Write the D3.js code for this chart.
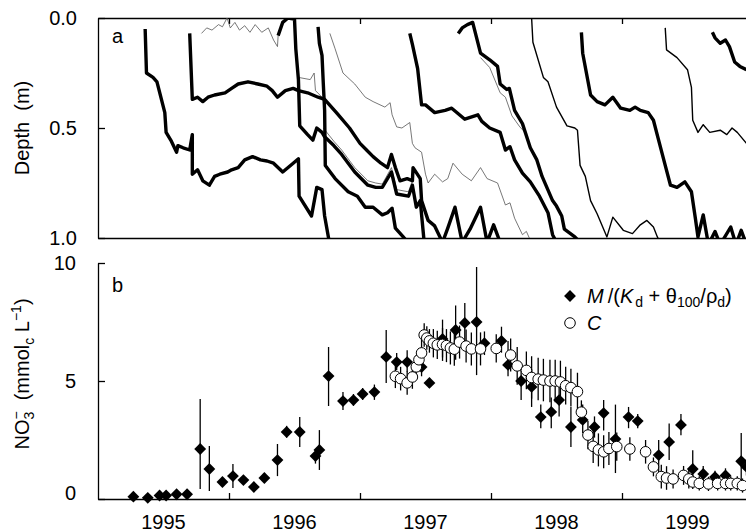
<!DOCTYPE html>
<html>
<head>
<meta charset="utf-8">
<script src="https://cdn.jsdelivr.net/npm/d3@7"></script>
<style>
  body { margin: 0; background: #fff; }
  svg { display: block; font-family: "Liberation Sans", Arial, sans-serif; }
</style>
</head>
<body>
<script>
// ---- panel a : depth of the solute fronts (year, depth m) ----
const curveA = [[1995.36,0.05],[1995.37,0.25],[1995.42,0.27],[1995.45,0.29],[1995.51,0.43],[1995.52,0.52],[1995.56,0.56],[1995.60,0.61],[1995.61,0.58],[1995.65,0.59],[1995.70,0.60],[1995.72,0.53],[1995.72,0.71],[1995.76,0.69],[1995.80,0.74],[1995.85,0.76],[1995.89,0.72],[1995.93,0.71],[1995.99,0.70],[1996.02,0.69],[1996.07,0.68],[1996.12,0.645],[1996.18,0.63],[1996.24,0.645],[1996.29,0.65],[1996.34,0.66],[1996.41,0.70],[1996.49,0.66],[1996.53,0.64],[1996.535,0.81],[1996.63,0.90],[1996.67,0.77],[1996.71,0.78],[1996.73,0.90],[1996.76,1.0],[1996.77,1.05]];
const curveB = [[1995.70,0.07],[1995.72,0.37],[1995.76,0.36],[1995.80,0.38],[1995.84,0.36],[1995.89,0.35],[1995.97,0.34],[1996.02,0.32],[1996.07,0.30],[1996.145,0.29],[1996.22,0.30],[1996.29,0.31],[1996.33,0.33],[1996.37,0.36],[1996.43,0.33],[1996.49,0.32],[1996.53,0.33],[1996.60,0.34],[1996.68,0.36],[1996.73,0.37],[1996.82,0.43],[1996.92,0.50],[1997.00,0.57],[1997.05,0.60],[1997.10,0.63],[1997.16,0.66],[1997.21,0.68],[1997.24,0.62],[1997.27,0.68],[1997.305,0.74],[1997.36,0.73],[1997.40,0.74],[1997.405,0.68],[1997.46,0.73],[1997.47,0.83],[1997.52,0.92],[1997.57,0.945],[1997.63,1.02],[1997.67,0.955],[1997.725,0.86],[1997.78,1.02],[1997.84,0.96],[1997.92,0.86],[1997.97,1.02],[1998.02,0.94],[1998.07,1.02]];
const curveCthin = [[1995.79,0.07],[1995.83,0.045],[1995.87,0.055],[1995.92,0.03],[1995.95,0.04],[1995.985,0.0],[1996.01,0.045],[1996.045,0.02],[1996.08,0.055],[1996.12,0.035],[1996.16,0.065],[1996.20,0.03],[1996.25,0.065],[1996.30,0.045],[1996.34,0.10],[1996.37,0.13],[1996.375,0.08]];
const curveC = [[1996.375,0.08],[1996.41,0.02],[1996.45,0.0],[1996.50,0.005],[1996.51,0.14],[1996.53,0.28],[1996.54,0.49],[1996.60,0.53],[1996.64,0.555],[1996.67,0.50],[1996.71,0.52],[1996.73,0.54],[1996.80,0.58],[1996.86,0.62],[1996.96,0.70],[1997.06,0.76],[1997.12,0.77],[1997.17,0.77],[1997.24,0.70],[1997.28,0.80],[1997.37,0.81],[1997.40,0.76],[1997.43,0.86],[1997.46,0.83],[1997.49,1.02]];
const curveCbranch = [[1996.53,0.27],[1996.62,0.28],[1996.65,0.25],[1996.66,0.33],[1996.71,0.36]];
const curveCtwin = [[1996.72,0.50],[1996.80,0.56],[1996.86,0.60],[1996.96,0.68],[1997.06,0.74],[1997.12,0.75],[1997.17,0.755],[1997.24,0.68],[1997.28,0.78],[1997.37,0.79],[1997.40,0.74]];
const curveJ = [[1996.68,0.04],[1996.69,0.115],[1996.71,0.17],[1996.72,0.30],[1996.73,0.42],[1996.735,0.67],[1996.81,0.73],[1996.91,0.79],[1996.98,0.81],[1997.04,0.86],[1997.10,0.86],[1997.17,0.895],[1997.21,0.885],[1997.245,0.865],[1997.27,0.955],[1997.33,0.995],[1997.38,1.03]];
const curveK = [[1996.77,0.07],[1996.81,0.14],[1996.87,0.25],[1996.96,0.30],[1997.04,0.36],[1997.10,0.38],[1997.19,0.405],[1997.23,0.385],[1997.245,0.44],[1997.28,0.495],[1997.32,0.50],[1997.38,0.475],[1997.40,0.57],[1997.42,0.59],[1997.47,0.61],[1997.50,0.71],[1997.52,0.75],[1997.57,0.71],[1997.63,0.745],[1997.67,0.73],[1997.71,0.66],[1997.78,0.71],[1997.85,0.74],[1997.92,0.68],[1997.97,0.73],[1998.05,0.75],[1998.11,0.85],[1998.145,0.84],[1998.18,0.91],[1998.24,0.985],[1998.27,0.97],[1998.30,1.01]];
const curveD = [[1997.38,0.07],[1997.40,0.12],[1997.44,0.23],[1997.47,0.395],[1997.50,0.395],[1997.57,0.43],[1997.65,0.42],[1997.70,0.41],[1997.80,0.46],[1997.90,0.44],[1997.93,0.47],[1997.99,0.50],[1998.07,0.52],[1998.11,0.60],[1998.145,0.585],[1998.18,0.645],[1998.24,0.705],[1998.30,0.745],[1998.37,0.81],[1998.435,0.885],[1998.47,0.985],[1998.50,1.02]];
const curveE = [[1997.75,0.07],[1997.78,0.045],[1997.82,0.03],[1997.86,0.02],[1997.92,0.16],[1997.99,0.19],[1998.05,0.22],[1998.07,0.30],[1998.12,0.325],[1998.14,0.32],[1998.18,0.42],[1998.24,0.48],[1998.30,0.59],[1998.35,0.645],[1998.39,0.72],[1998.47,0.83],[1998.50,0.855],[1998.54,0.90],[1998.56,0.96],[1998.64,0.995],[1998.68,1.02]];
const curveEtwin = [[1997.92,0.18],[1997.99,0.225],[1998.07,0.34],[1998.11,0.36],[1998.16,0.445],[1998.22,0.495],[1998.26,0.52]];
const curveF = [[1998.31,0.0],[1998.32,0.11],[1998.40,0.27],[1998.435,0.29],[1998.50,0.405],[1998.58,0.49],[1998.64,0.50],[1998.66,0.51],[1998.68,0.67],[1998.72,0.72],[1998.76,0.83],[1998.81,0.89],[1998.885,0.995],[1998.93,0.905],[1999.01,0.965],[1999.08,0.98],[1999.14,0.94],[1999.19,0.92],[1999.24,0.95],[1999.27,0.995],[1999.29,1.02]];
const curveG = [[1998.69,0.065],[1998.70,0.16],[1998.76,0.35],[1998.81,0.38],[1998.87,0.395],[1998.93,0.36],[1998.99,0.41],[1999.06,0.42],[1999.10,0.405],[1999.14,0.42],[1999.20,0.43],[1999.24,0.465],[1999.275,0.545],[1999.33,0.67],[1999.37,0.76],[1999.42,0.77],[1999.48,0.745],[1999.53,0.79],[1999.56,0.91],[1999.58,0.995],[1999.62,0.895],[1999.66,1.03],[1999.71,0.97],[1999.75,1.03],[1999.83,0.95],[1999.87,1.03],[1999.91,0.965],[1999.95,1.03]];
const curveH = [[1999.33,0.045],[1999.34,0.145],[1999.42,0.18],[1999.50,0.235],[1999.53,0.315],[1999.54,0.465],[1999.58,0.52],[1999.62,0.485],[1999.67,0.52],[1999.75,0.51],[1999.80,0.53],[1999.84,0.50],[1999.88,0.52],[1999.95,0.57]];
const curveI = [[1999.69,0.065],[1999.71,0.09],[1999.75,0.115],[1999.79,0.10],[1999.82,0.13],[1999.86,0.20],[1999.90,0.22],[1999.95,0.235]];

const depthTicks = [0, 0.5, 1];

// ---- panel b : NO3- concentration ----
const mdYear = [1995.27,1995.38,1995.47,1995.52,1995.60,1995.68,1995.78,1995.85,1995.95,1996.03,1996.11,1996.19,1996.27,1996.37,1996.44,1996.54,1996.66,1996.69,1996.76,1996.87,1996.95,1997.02,1997.11,1997.20,1997.28,1997.36,1997.47,1997.53,1997.63,1997.73,1997.80,1997.89,1997.95,1998.08,1998.13,1998.23,1998.31,1998.38,1998.46,1998.52,1998.61,1998.70,1998.79,1998.86,1998.95,1999.05,1999.12,1999.28,1999.36,1999.45,1999.54,1999.62,1999.71,1999.79,1999.91,1999.95];
const mdValue = [0.10,0.05,0.15,0.15,0.20,0.20,2.12,1.27,0.72,0.97,0.80,0.51,0.89,1.65,2.84,2.84,1.82,2.08,5.21,4.15,4.19,4.45,4.53,6.02,5.80,5.80,5.59,4.92,6.78,7.16,7.46,7.50,6.60,6.70,5.68,5.00,4.75,3.47,3.69,4.19,3.05,3.35,3.05,3.64,2.54,3.47,3.30,1.86,2.42,3.14,1.27,1.06,0.93,1.00,1.60,1.36];
const mdLow = [0.10,0.05,0.15,0.15,0.20,0.20,0.42,0.34,0.55,0.47,0.80,0.51,0.70,0.97,2.60,2.20,1.50,1.23,3.94,3.77,3.95,4.20,4.20,4.92,5.47,5.40,5.20,4.70,6.00,5.90,6.50,5.25,6.10,6.20,5.20,4.20,3.90,3.00,3.00,3.50,2.20,2.80,2.60,2.90,1.10,3.00,3.00,1.10,1.65,2.70,0.60,0.70,0.60,0.70,0.70,1.00];
const mdHigh = [0.10,0.05,0.15,0.15,0.20,0.20,4.24,2.25,0.90,1.48,0.80,0.51,1.10,2.33,3.10,3.47,2.10,2.92,6.44,4.53,4.45,4.70,4.85,7.16,6.19,6.30,6.00,5.10,7.60,8.20,8.30,9.83,7.10,7.30,6.70,5.70,5.50,4.00,4.30,5.00,3.90,4.00,3.50,4.20,4.00,3.90,3.60,2.50,3.20,3.60,2.07,1.40,1.20,1.30,2.80,1.70];

const cYear = [1997.27,1997.31,1997.36,1997.40,1997.43,1997.45,1997.47,1997.49,1997.51,1997.53,1997.56,1997.59,1997.63,1997.66,1997.69,1997.72,1997.76,1997.81,1997.85,1997.92,1998.04,1998.15,1998.20,1998.27,1998.31,1998.36,1998.40,1998.45,1998.49,1998.53,1998.57,1998.61,1998.66,1998.69,1998.74,1998.78,1998.82,1998.86,1998.90,1998.96,1999.06,1999.18,1999.24,1999.30,1999.34,1999.39,1999.47,1999.51,1999.54,1999.59,1999.66,1999.73,1999.79,1999.83,1999.88,1999.92];
const cValue = [5.20,5.10,4.92,5.17,5.60,5.90,6.19,6.95,6.82,6.70,6.60,6.53,6.55,6.50,6.40,6.35,6.65,6.48,6.36,6.36,6.38,6.10,5.64,5.45,5.15,5.08,5.04,5.00,5.00,4.96,4.80,4.72,4.55,3.68,2.71,2.23,2.08,2.00,2.14,2.22,2.12,2.00,1.36,0.95,0.89,0.85,1.00,0.85,0.72,0.66,0.64,0.66,0.66,0.66,0.66,0.57];
const cErr = [0.5,0.5,0.5,0.5,0.5,0.5,0.6,0.5,0.5,0.5,0.6,0.6,0.7,0.7,0.7,0.7,0.7,0.7,0.7,0.7,0.6,0.7,0.8,0.8,0.9,0.9,0.9,0.9,0.9,0.9,0.8,0.8,0.8,0.5,0.6,0.7,0.7,0.7,0.7,0.6,0.5,0.5,0.4,0.5,0.5,0.4,0.4,0.4,0.3,0.3,0.3,0.3,0.3,0.3,0.3,0.3];

const concTicks = [0, 5, 10];
const yearTicks = [1996, 1997, 1998, 1999];
const yearLabels = [1995, 1996, 1997, 1998, 1999];

const W = 746, H = 532;
const FONT = 20;

const svg = d3.select("body").append("svg")
    .attr("width", W)
    .attr("height", H);

// shared time scale, one year = 131 px
const x = d3.scaleLinear().domain([1995, 2000]).range([98, 753]);
const yA = d3.scaleLinear().domain([0, 1]).range([18, 238]);
const yB = d3.scaleLinear().domain([0, 10]).range([499, 263]);

function styleAxis(g) {
    g.attr("font-size", FONT).attr("font-family", null);
    g.selectAll("path.domain").attr("stroke", "#000").attr("stroke-width", 1.3);
    g.selectAll(".tick line").attr("stroke", "#000").attr("stroke-width", 1.3);
    g.selectAll(".tick text").attr("fill", "#000");
}

//******** PANEL A */
const defs = svg.append("defs");
defs.append("clipPath").attr("id", "clipA")
    .append("rect")
    .attr("x", x(1995)).attr("y", yA(0))
    .attr("width", W - x(1995)).attr("height", yA(1) - yA(0));

const aLeft = svg.append("g")
    .attr("transform", `translate(${x(1995)},0)`)
    .call(d3.axisLeft(yA).tickValues(depthTicks).tickSizeInner(-7).tickSizeOuter(0)
        .tickPadding(21).tickFormat(d3.format(".1f")))
    .call(styleAxis);

const aTop = svg.append("g")
    .attr("transform", `translate(0,${yA(0)})`)
    .call(d3.axisTop(x).tickValues(yearTicks).tickSizeInner(-6).tickSizeOuter(0).tickFormat(""))
    .call(styleAxis);

const aBottom = svg.append("g")
    .attr("transform", `translate(0,${yA(1)})`)
    .call(d3.axisBottom(x).tickValues([]).tickSizeOuter(0))
    .call(styleAxis);

svg.append("text")
    .attr("transform", `translate(29,${yA(0.5)}) rotate(-90)`)
    .attr("text-anchor", "middle")
    .attr("font-size", FONT)
    .text("Depth\u00a0\u00a0(m)");

svg.append("text")
    .attr("x", 112).attr("y", 43)
    .attr("font-size", FONT)
    .text("a");

const depthLine = d3.line()
    .x(d => x(d[0]))
    .y(d => yA(d[1]));

const fronts = [
    { data: curveCthin, w: 0.8, c: "#555" },
    { data: curveCbranch, w: 0.8, c: "#555" },
    { data: curveCtwin, w: 0.8, c: "#555" },
    { data: curveK, w: 0.8, c: "#555" },
    { data: curveEtwin, w: 0.8, c: "#555" },
    { data: curveF, w: 1.4, c: "#000" },
    { data: curveH, w: 1.4, c: "#000" },
    { data: curveA, w: 3.4, c: "#000" },
    { data: curveB, w: 3.4, c: "#000" },
    { data: curveC, w: 3.4, c: "#000" },
    { data: curveJ, w: 3.4, c: "#000" },
    { data: curveD, w: 3.4, c: "#000" },
    { data: curveE, w: 3.4, c: "#000" },
    { data: curveG, w: 3.4, c: "#000" },
    { data: curveI, w: 3.4, c: "#000" }
];

svg.append("g")
    .attr("class", "fronts_g")
    .attr("clip-path", "url(#clipA)")
    .selectAll("path")
    .data(fronts)
    .join("path")
    .attr("d", d => depthLine(d.data))
    .attr("fill", "none")
    .attr("stroke", d => d.c)
    .attr("stroke-width", d => d.w)
    .attr("stroke-linejoin", "round");

//******** PANEL B */
const bLeft = svg.append("g")
    .attr("transform", `translate(${x(1995)},0)`)
    .call(d3.axisLeft(yB).tickValues(concTicks).tickSizeInner(-7).tickSizeOuter(0).tickPadding(22))
    .call(styleAxis);
bLeft.selectAll(".tick text").filter(d => d === 0).attr("dy", "0.0em");

const bBottom = svg.append("g")
    .attr("transform", `translate(0,${yB(0)})`)
    .call(d3.axisBottom(x).tickValues(yearTicks).tickSizeInner(-6).tickSizeOuter(0).tickFormat(""))
    .call(styleAxis);

svg.append("g")
    .attr("class", "year_labels")
    .selectAll("text")
    .data(yearLabels)
    .join("text")
    .attr("x", d => x(d + 0.5))
    .attr("y", 529)
    .attr("text-anchor", "middle")
    .attr("font-size", FONT)
    .text(d => d);

svg.append("text")
    .attr("x", 112).attr("y", 292)
    .attr("font-size", FONT)
    .text("b");

// y label: NO3- (mmolc L-1)
const yLab = svg.append("text")
    .attr("transform", `translate(29,${yB(5.3)}) rotate(-90)`)
    .attr("text-anchor", "middle")
    .attr("font-size", FONT);
yLab.append("tspan").text("NO");
yLab.append("tspan").attr("font-size", 14).attr("dy", 5).text("3");
yLab.append("tspan").attr("font-size", 14).attr("dx", -8).attr("dy", -13).text("\u2212");
yLab.append("tspan").attr("dy", 8).text("\u00a0\u00a0(mmol");
yLab.append("tspan").attr("font-size", 14).attr("dy", 5).text("c");
yLab.append("tspan").attr("dy", -5).text(" L");
yLab.append("tspan").attr("font-size", 14).attr("dy", -8).text("\u22121");
yLab.append("tspan").attr("dy", 8).text(")");

// error bars
const md = mdYear.map((t, i) => ({ t, v: mdValue[i], lo: mdLow[i], hi: mdHigh[i] }));
const cc = cYear.map((t, i) => ({ t, v: cValue[i], lo: cValue[i] - cErr[i], hi: cValue[i] + cErr[i] }));

svg.append("g")
    .attr("class", "err_g")
    .selectAll("line")
    .data(md.concat(cc).filter(d => d.hi > d.lo))
    .join("line")
    .attr("x1", d => x(d.t)).attr("x2", d => x(d.t))
    .attr("y1", d => yB(d.lo)).attr("y2", d => yB(d.hi))
    .attr("stroke", "#000")
    .attr("stroke-width", 1.3);

const diamond = d3.symbol().type(d3.symbolSquare).size(70);

svg.append("g")
    .attr("class", "md_g")
    .selectAll("path")
    .data(md)
    .join("path")
    .attr("transform", d => `translate(${x(d.t)},${yB(d.v)}) rotate(45)`)
    .attr("d", diamond)
    .attr("fill", "#000");

svg.append("g")
    .attr("class", "c_g")
    .selectAll("circle")
    .data(cc)
    .join("circle")
    .attr("cx", d => x(d.t))
    .attr("cy", d => yB(d.v))
    .attr("r", 5.3)
    .attr("fill", "#fff")
    .attr("stroke", "#000")
    .attr("stroke-width", 1);

//** legend */
const legend = svg.append("g").attr("class", "legend_g");
legend.append("path")
    .attr("transform", "translate(570,296) rotate(45)")
    .attr("d", diamond)
    .attr("fill", "#000");
legend.append("circle")
    .attr("cx", 570).attr("cy", 323).attr("r", 5.3)
    .attr("fill", "#fff").attr("stroke", "#000");

const l1 = legend.append("text").attr("x", 587).attr("y", 303).attr("font-size", FONT);
l1.append("tspan").attr("font-style", "italic").text("M");
l1.append("tspan").text("\u2009/(");
l1.append("tspan").attr("font-style", "italic").text("K");
l1.append("tspan").attr("font-size", 14).attr("dy", 4).attr("dx", 2).text("d");
l1.append("tspan").attr("dy", -4).text(" + \u03b8");
l1.append("tspan").attr("font-size", 14).attr("dy", 4).text("100");
l1.append("tspan").attr("dy", -4).text("/\u03c1");
l1.append("tspan").attr("font-size", 14).attr("dy", 4).text("d");
l1.append("tspan").attr("dy", -4).text(")");

legend.append("text")
    .attr("x", 587).attr("y", 330)
    .attr("font-size", FONT)
    .attr("font-style", "italic")
    .text("C");
</script>
</body>
</html>
